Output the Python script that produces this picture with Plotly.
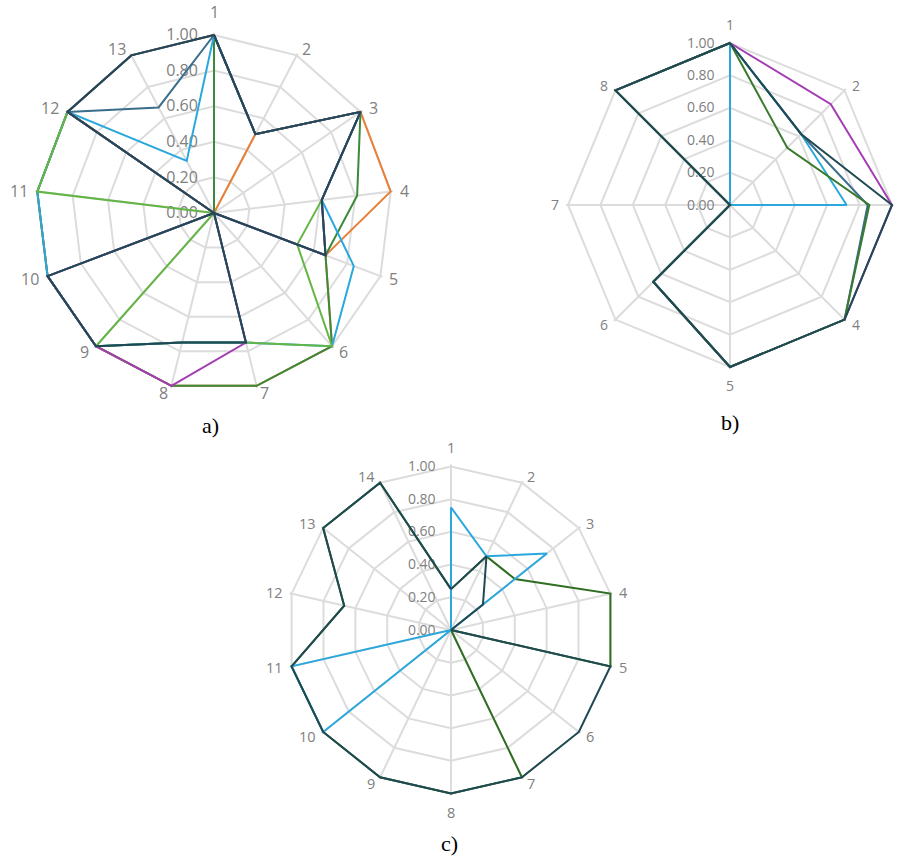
import math
import plotly.graph_objects as go

# ---- panel a) : 13 criteria ----
a_cats = ["1", "2", "3", "4", "5", "6", "7", "8", "9", "10", "11", "12", "13"]
a_orange = [0, 0.5, 1, 1, 0.67, 1, 1, 1, 1, 1, 1, 1, 0]
a_dkgreen = [1, 0.5, 1, 0.81, 0.67, 1, 1, 1, 1, 1, 1, 1, 0]
a_ltblue = [1, 0.5, 1, 0.61, 0.84, 1, 0.75, 0.75, 1, 1, 1, 1, 0.33]
a_ltgreen = [1, 0.5, 1, 0.61, 0.5, 1, 0.75, 0.75, 1, 0, 1, 1, 1]
a_steel = [1, 0.5, 1, 0.61, 0.67, 0, 0.75, 0.75, 1, 1, 0, 1, 0.67]
a_purple = [1, 0.5, 1, 0.61, 0.67, 0, 0.75, 1, 1, 1, 0, 1, 1]
a_teal = [1, 0.5, 1, 0.61, 0.67, 0, 0.75, 0.75, 1, 1, 0, 1, 1]

# ---- panel b) : 8 criteria ----
b_cats = ["1", "2", "3", "4", "5", "6", "7", "8"]
b_purple = [1, 0.88, 1, 1, 1, 0.67, 0, 1]
b_ltblue = [1, 0.62, 0.72, 0, 0, 0, 0, 0]
b_steel = [1, 0.62, 0.85, 1, 1, 0.67, 0, 1]
b_green = [1, 0.5, 0.86, 1, 1, 0.67, 0, 1]
b_teal = [1, 0.62, 1, 1, 1, 0.67, 0, 1]

# ---- panel c) : 14 criteria ----
c_cats = ["1", "2", "3", "4", "5", "6", "7", "8", "9", "10", "11", "12", "13", "14"]
c_dkgreen = [0.25, 0.5, 0.5, 1, 1, 0, 1, 1, 1, 1, 1, 0.67, 1, 1]
c_ltblue = [0.75, 0.5, 0.75, 0, 0, 0, 0, 0, 0, 1, 1, 0, 0, 0]
c_teal = [0.25, 0.5, 0.25, 0, 1, 1, 1, 1, 1, 1, 1, 0.67, 1, 1]

tick_vals = [0, 0.2, 0.4, 0.6, 0.8, 1.0]
R_MAX = 1.012  # a hair of room so rim lines are not clipped

TEAL = "#1f4a53"
STEEL = "#3a6e8c"
LTBLUE = "#2aa8dd"
DKGREEN = "#3b8a3b"
LTGREEN = "#63b545"
ORANGE = "#e8803a"
PURPLE = "#a43db3"
GREEN_B = "#3a7a2c"
GREEN_C = "#2f6e22"
GRID = "#dcdcdc"
LABEL = "#808080"
FONT = "Open Sans"

W, H = 901, 860

fig = go.Figure()


def closed(vals, cats):
    return list(vals) + [vals[0]], list(cats) + [cats[0]]


def add_series(vals, cats, color, subplot):
    r, th = closed(vals, cats)
    fig.add_trace(go.Scatterpolar(
        r=r, theta=th, mode="lines", subplot=subplot,
        line=dict(color=color, width=2), showlegend=False,
        hoverinfo="skip",
    ))


def add_point_labels(cats, cx, cy, rad, fsize, pad_side, off_top, off_bottom):
    """Category labels around the rim, anchored away from the centre."""
    n = len(cats)
    for k, name in enumerate(cats):
        ang = 360.0 * k / n
        s, c = math.sin(math.radians(ang)), math.cos(math.radians(ang))
        if abs(ang) < 1e-6:
            px, py, xa = cx, cy - rad - off_top, "center"
        elif abs(ang - 180) < 1e-6:
            px, py, xa = cx, cy + rad + off_bottom, "center"
        else:
            px = cx + (rad + pad_side) * s
            py = cy - (rad + pad_side) * c
            xa = "left" if ang < 180 else "right"
        fig.add_annotation(
            text=name, x=px / W, y=1 - py / H, xref="paper", yref="paper",
            showarrow=False, xanchor=xa, yanchor="middle",
            font=dict(family=FONT, size=fsize, color=LABEL),
        )


for vals, col in [(a_orange, ORANGE), (a_dkgreen, DKGREEN), (a_ltblue, LTBLUE),
                  (a_ltgreen, LTGREEN), (a_steel, STEEL), (a_purple, PURPLE),
                  (a_teal, TEAL)]:
    add_series(vals, a_cats, col, "polar")

for vals, col in [(b_purple, PURPLE), (b_ltblue, LTBLUE), (b_steel, STEEL),
                  (b_green, GREEN_B), (b_teal, TEAL)]:
    add_series(vals, b_cats, col, "polar2")

for vals, col in [(c_dkgreen, GREEN_C), (c_ltblue, LTBLUE), (c_teal, TEAL)]:
    add_series(vals, c_cats, col, "polar3")

# panel geometry: centre x, centre y, radius of the 1.00 ring (pixels)
GEOM_A = (214, 213, 178)
GEOM_B = (730, 205, 162)
GEOM_C = (451, 630, 163.5)

add_point_labels(a_cats, *GEOM_A, 16, 7.5, 23, 18)
add_point_labels(b_cats, *GEOM_B, 14, 7, 19, 18)
add_point_labels(c_cats, *GEOM_C, 14.5, 7, 19.5, 18.5)


def box(cx, cy, rad):
    rr = rad * R_MAX
    x0, x1 = (cx - rr) / W, (cx + rr) / W
    y0, y1 = 1 - (cy + rr) / H, 1 - (cy - rr) / H
    return dict(x=[x0, x1], y=[y0, y1])


def polar_layout(cats, geom, fsize):
    return dict(
        domain=box(*geom),
        gridshape="linear",
        bgcolor="white",
        radialaxis=dict(
            range=[0, R_MAX], tickvals=tick_vals, tickformat=".2f",
            angle=90, tickangle=90, side="counterclockwise",
            showline=False, ticks="outside", ticklen=10,
            tickcolor="rgba(0,0,0,0)", layer="below traces",
            gridcolor=GRID, gridwidth=1.5,
            tickfont=dict(family=FONT, size=fsize, color=LABEL),
        ),
        angularaxis=dict(
            type="category", categoryarray=cats, direction="clockwise",
            rotation=90, showline=False, layer="below traces",
            gridcolor=GRID, gridwidth=1.5,
            ticks="", showticklabels=False,
        ),
    )


fig.update_layout(
    width=W, height=H,
    margin=dict(l=0, r=0, t=0, b=0),
    paper_bgcolor="white",
    polar=polar_layout(a_cats, GEOM_A, 16),
    polar2=polar_layout(b_cats, GEOM_B, 14),
    polar3=polar_layout(c_cats, GEOM_C, 14),
)

for label, cx, cy in [("a)", 210, 425), ("b)", 730, 423), ("c)", 449, 843)]:
    fig.add_annotation(
        text=label, x=cx / W, y=1 - cy / H, xref="paper", yref="paper",
        showarrow=False, xanchor="center", yanchor="middle",
        font=dict(family="Liberation Serif", size=22, color="black"),
    )

fig.write_html("out.html")
